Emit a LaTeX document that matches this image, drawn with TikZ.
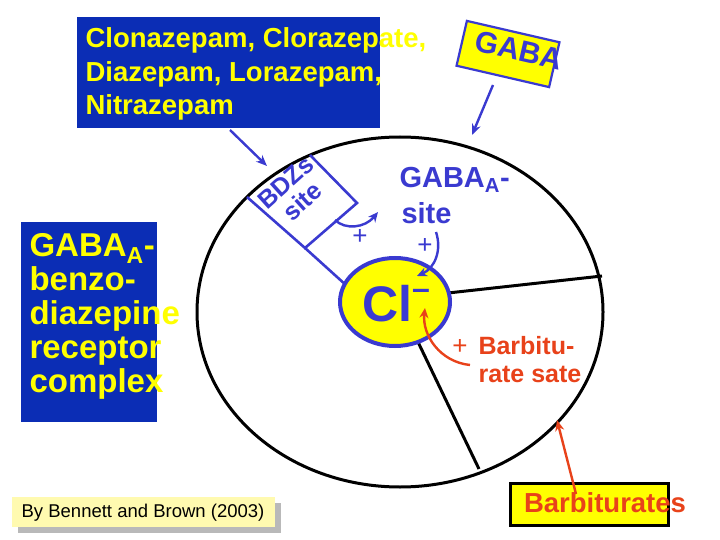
\documentclass[tikz,border=0pt]{standalone}
\usepackage{fontspec}
\setmainfont{Liberation Sans}
\usetikzlibrary{arrows.meta,shapes.geometric}
\definecolor{bbox}{HTML}{0B2DB5}
\definecolor{bl}{HTML}{3A3AD0}
\definecolor{yl}{HTML}{FFFF00}
\definecolor{rd}{HTML}{E8421A}
\definecolor{cr}{HTML}{FFFAB0}
\tikzset{
 arr/.style={-{Stealth[length=11pt,width=9pt]},line width=2.4pt},
 carr/.style={-{Stealth[length=10pt,width=9pt]},line width=2.4pt},
 bt/.style={font=\bfseries, text=yl},
 bltxt/.style={font=\bfseries, text=bl},
}
\begin{document}
\begin{tikzpicture}[x=1pt,y=-1pt]
\useasboundingbox (0,0) rectangle (720,540);
% big ellipse
\draw[line width=3pt] (400,312) ellipse [x radius=203, y radius=175];
\coordinate (eR) at (602,276);
\coordinate (eB) at (479,469);
\coordinate (eUL) at (247,197);
% BDZ box lines
\coordinate (b1) at (310,155);
\coordinate (b2) at (357,203);
\coordinate (b3) at (305,248);
\draw[bl,line width=2.6pt] (eUL) -- (b3) -- (b2) -- (b1);
\draw[bl,line width=2.6pt] (b3) -- (347,286);
% dividers
\draw[line width=3pt] (448,293) -- (eR);
\draw[line width=3pt] (418,342) -- (eB);
% Cl
\node[ellipse,draw=bl,line width=4pt,fill=yl,minimum width=110pt,minimum height=88pt,inner sep=0pt] (cl) at (395,302) {};
\node[bltxt,font=\bfseries\fontsize{50}{50}\selectfont] (cltxt) at (396,304) {Cl\raisebox{0.45em}{\fontsize{32}{32}\selectfont –}};
% title box
\node[fill=bbox,minimum width=303pt,minimum height=111pt,anchor=north west,inner sep=0pt] (title) at (77,17) {};
\node[bt,anchor=west,align=left,font=\bfseries\fontsize{27.5}{33.5}\selectfont] (titletxt) at (82,74) {Clonazepam, Clorazepate,\\Diazepam, Lorazepam,\\Nitrazepam};
% left box
\node[fill=bbox,minimum width=136pt,minimum height=200pt,anchor=north west,inner sep=0pt] (left) at (21,222) {};
\node[bt,anchor=west,align=left,font=\bfseries\fontsize{33}{34}\selectfont] (lefttxt) at (26,316) {GABA\textsubscript{A}-\\benzo-\\diazepine\\receptor\\complex};
% arrows
\coordinate (ta) at (230,130);
\coordinate (tb) at (267,166);
\draw[bl,arr] (ta) -- (tb);
% GABA box
\node[draw=bl,line width=2.2pt,fill=yl,rotate=-13,minimum width=95pt,minimum height=46pt,inner sep=0pt] (gbox) at (508,54) {};
\node[bltxt,rotate=-13,font=\bfseries\fontsize{30}{30}\selectfont] (gtxt) at (519,50) {GABA};
\coordinate (ga) at (493,85);
\coordinate (gb) at (472,135);
\draw[bl,arr] (ga) -- (gb);
% BDZs site text
\node[bltxt,rotate=42,align=center,font=\bfseries\fontsize{25}{25}\selectfont] (bdz) at (294,192) {BDZs\\site};
% GABA site text
\node[bltxt,anchor=west,font=\bfseries\fontsize{29}{29}\selectfont] (gsite1) at (396,180) {GABA\textsubscript{A}-};
\node[bltxt,anchor=west,font=\bfseries\fontsize{29}{29}\selectfont] (gsite2) at (398,213) {site};
% curved arrows
\coordinate (c1) at (335,220);
\coordinate (c2) at (378,212);
\draw[bl,carr] (c1) .. controls (345,230) and (365,228) .. (c2);
\node[text=bl,font=\fontsize{26}{26}\selectfont] (p1) at (360,237) {+};
\coordinate (c3) at (436,232);
\coordinate (c4) at (417,276);
\draw[bl,carr] (c3) .. controls (442,250) and (435,268) .. (c4);
\node[text=bl,font=\fontsize{26}{26}\selectfont] (p2) at (425,246) {+};
\coordinate (c5) at (470,365);
\coordinate (c6) at (425,308);
\draw[rd,carr] (c5) .. controls (440,362) and (422,335) .. (c6);
\node[text=rd,font=\fontsize{26}{26}\selectfont] (p3) at (460,347) {+};
\node[text=rd,anchor=west,align=left,font=\bfseries\fontsize{25}{28}\selectfont] (barb) at (475,360) {Barbitu-\\rate sate};
% Barbiturates box
\node[draw=black,line width=3pt,fill=yl,minimum width=158pt,minimum height=42pt,inner sep=0pt] (bbx) at (589,504) {};
\node[text=rd,font=\bfseries\fontsize{27.5}{27.5}\selectfont] (btxt) at (605,503) {Barbiturates};
\coordinate (ra) at (576,494);
\coordinate (rb) at (557,420);
\draw[rd,arr] (ra) -- (rb);
% credit
\fill[gray!55] (18,503) rectangle (281,533);
\node[fill=cr,minimum width=263pt,minimum height=30pt,inner sep=0pt] (cred) at (143.5,512) {};
\node[font=\fontsize{18.5}{18.5}\selectfont] (credt) at (143,513) {By Bennett and Brown (2003)};
\end{tikzpicture}
\end{document}
